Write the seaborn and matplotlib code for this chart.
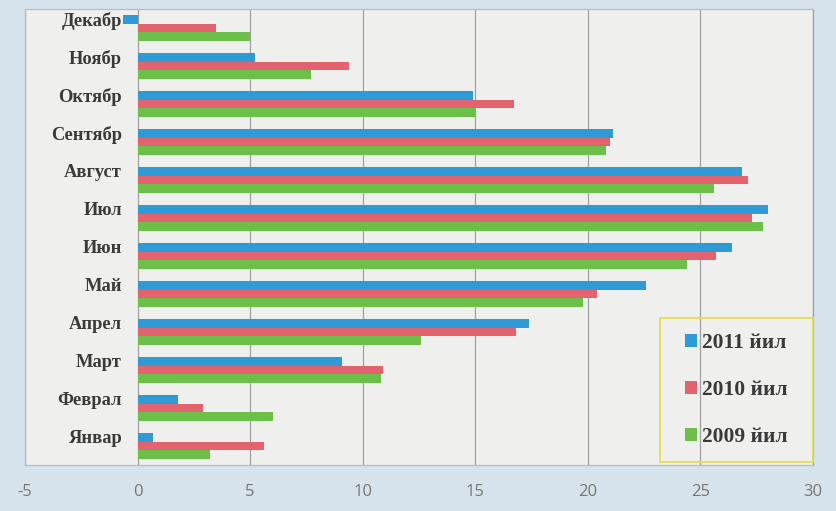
import matplotlib
matplotlib.use("Agg")
import matplotlib.pyplot as plt
from matplotlib.patches import Rectangle
import pandas as pd
import seaborn as sns

# Monthly values per year, top row of the chart first
months = ["Декабр", "Ноябр", "Октябр", "Сентябр", "Август", "Июл",
          "Июн", "Май", "Апрел", "Март", "Феврал", "Январ"]
years = ["2011 йил", "2010 йил", "2009 йил"]
vals_2011 = [-0.65, 5.2, 14.9, 21.1, 26.85, 28.0, 26.4, 22.6, 17.4, 9.1, 1.8, 0.7]
vals_2010 = [3.5, 9.4, 16.7, 21.0, 27.1, 27.3, 25.7, 20.4, 16.8, 10.9, 2.9, 5.6]
vals_2009 = [5.0, 7.7, 15.0, 20.8, 25.6, 27.8, 24.4, 19.8, 12.6, 10.8, 6.0, 3.2]
x_ticks = [-5, 0, 5, 10, 15, 20, 25, 30]

colors = {"2011 йил": "#2e9ad6", "2010 йил": "#e2636e", "2009 йил": "#6cbf48"}

df = pd.DataFrame({
    "month": months * 3,
    "year": [years[0]] * 12 + [years[1]] * 12 + [years[2]] * 12,
    "value": vals_2011 + vals_2010 + vals_2009,
})

sns.set_theme(style="white")
plt.rcParams["font.family"] = ["Liberation Serif", "DejaVu Serif"]

W, H = 836, 511
fig = plt.figure(figsize=(W / 100, H / 100), dpi=100, facecolor="#d6e3ec")
ax = fig.add_axes([25 / W, 1 - 465 / H, (813 - 25) / W, (465 - 9) / H])
ax.set_facecolor("#efefee")

sns.barplot(data=df, x="value", y="month", hue="year", order=months,
            hue_order=years, palette=colors, orient="h", width=0.7,
            linewidth=0, saturation=1, ax=ax)

ax.set_xlim(-5, 30)
ax.set_ylim(len(months) - 0.5, -0.5)
ax.set_xticks(x_ticks)
ax.set_xticklabels([str(t) for t in x_ticks], family=["Open Sans", "DejaVu Sans"],
                   fontsize=12, color="#767676")
ax.tick_params(axis="x", length=0, pad=14)
ax.set_yticks([])
ax.set_xlabel("")
ax.set_ylabel("")

ax.grid(axis="x", color="#a0a0a0", linewidth=0.9)
ax.set_axisbelow(True)
for side, sp in ax.spines.items():
    sp.set_color("#b4bcc4")
    sp.set_linewidth(0.9)
ax.spines["right"].set_color("#a0a0a0")

# Month names placed beside the zero line
for i, m in enumerate(months):
    ax.text(-0.7, i - 0.19, m, ha="right", va="center", fontsize=13.3,
            fontweight="bold", color="#3a3a3a")

# Legend inside a yellow box at the lower right
handles, labels = ax.get_legend_handles_labels()
leg = ax.legend(handles, labels, loc="center",
                bbox_to_anchor=(736.5 / W, 1 - 390 / H),
                bbox_transform=fig.transFigure, frameon=False,
                prop={"family": "Liberation Serif", "weight": "bold", "size": 15.5},
                handlelength=0.52, handleheight=0.52, handletextpad=0.25,
                labelspacing=1.25)
for t in leg.get_texts():
    t.set_color("#3a3a3a")
fig.add_artist(Rectangle((660 / W, 1 - 462 / H), (813 - 660) / W, (462 - 318) / H,
                         transform=fig.transFigure, fill=False,
                         edgecolor="#e6dc3c", linewidth=1.2))

fig.savefig("out.png", dpi=100, facecolor=fig.get_facecolor())
